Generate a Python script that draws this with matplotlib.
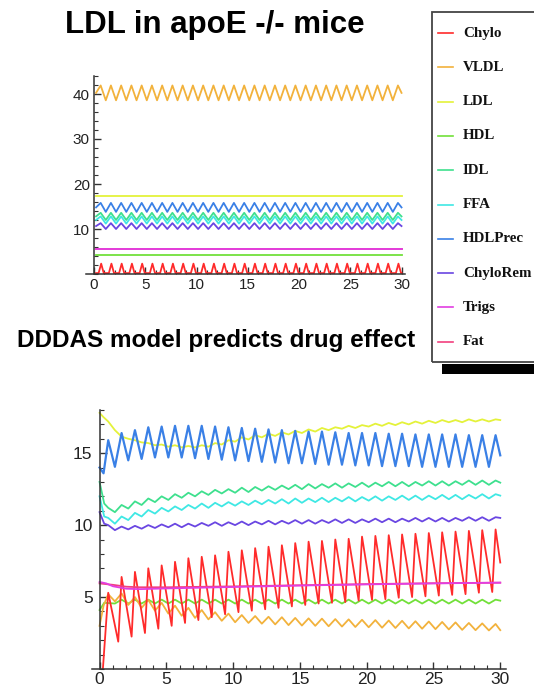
import numpy as np
import matplotlib.pyplot as plt
from matplotlib.lines import Line2D
from matplotlib.patches import Rectangle
from matplotlib.ticker import MultipleLocator

NAMES = ['Chylo', 'VLDL', 'LDL', 'HDL', 'IDL', 'FFA', 'HDLPrec', 'ChyloRem', 'Trigs', 'Fat']
COLORS = ['#ff2b2b', '#f2b23c', '#e4f23a', '#72e03a', '#3ee08e', '#3fe8e4',
          '#3a80e6', '#6a46e2', '#e23ee2', '#f2407e']

# one oscillation per day; peaks/troughs
days = np.arange(30)
t_peak = days + 0.65          # 0.65 .. 29.65
t_trough = days[:-1] + 1.15   # 1.15 .. 29.15

# ---------- top panel: apoE -/- steady state (trough, peak) levels ----------
top_chylo = (0.2, 2.3)
top_vldl = (38.6, 41.9)
top_idl = (12.0, 13.6)
top_ffa = (11.2, 12.8)
top_hdlprec = (13.8, 15.8)
top_chylorem = (10.0, 11.3)
top_ldl = 17.3
top_hdl = 4.3
top_trigs = 5.6
top_fat = 5.5

# ---------- bottom panel: drug effect ----------
chylo_peak = [5.3, 6.4, 6.75, 7.0, 7.2, 7.45, 7.7, 7.8, 7.9, 8.15, 8.25, 8.4, 8.5, 8.6, 8.75,
              8.85, 8.9, 9.0, 9.05, 9.2, 9.25, 9.3, 9.35, 9.4, 9.45, 9.5, 9.55, 9.6, 9.65, 9.7]
chylo_trough = [1.9, 2.25, 2.5, 2.8, 3.0, 3.2, 3.4, 3.6, 3.8, 3.95, 4.05, 4.15, 4.25, 4.35, 4.45,
                4.55, 4.6, 4.65, 4.75, 4.8, 4.85, 4.95, 5.0, 5.05, 5.1, 5.15, 5.2, 5.3, 5.35]
chylo_head = ([0.25], [0.0])
chylo_tail = ([30.0], [7.4])

hdlprec_peak = [15.9, 16.4, 16.6, 16.8, 16.85, 16.9, 16.9, 16.9, 16.85, 16.8, 16.75, 16.7, 16.65,
                16.6, 16.55, 16.5, 16.5, 16.45, 16.4, 16.4, 16.4, 16.35, 16.35, 16.3, 16.3, 16.3,
                16.3, 16.25, 16.25, 16.25]
hdlprec_trough = [14.05, 14.5, 14.6, 14.7, 14.7, 14.7, 14.65, 14.6, 14.55, 14.5, 14.45, 14.4, 14.35,
                  14.3, 14.3, 14.25, 14.2, 14.2, 14.15, 14.15, 14.1, 14.1, 14.1, 14.05, 14.05, 14.05,
                  14.05, 14.05, 14.05]
hdlprec_head = ([0.0, 0.3], [14.0, 13.6])
hdlprec_tail = ([30.0], [14.85])

ldl_peak = [17.2, 16.15, 15.9, 15.7, 15.6, 15.55, 15.5, 15.55, 15.7, 15.9, 16.1, 16.25, 16.35, 16.45,
            16.55, 16.65, 16.75, 16.8, 16.9, 16.95, 17.05, 17.1, 17.15, 17.2, 17.25, 17.3, 17.3,
            17.35, 17.35, 17.35]
ldl_trough = [16.6, 16.0, 15.75, 15.55, 15.45, 15.4, 15.4, 15.45, 15.6, 15.8, 15.95, 16.1, 16.2, 16.3,
              16.4, 16.5, 16.6, 16.7, 16.75, 16.85, 16.9, 16.95, 17.0, 17.05, 17.1, 17.15, 17.15,
              17.2, 17.2]
ldl_head = ([0.0, 0.3], [17.8, 17.5])
ldl_tail = ([30.0], [17.3])

idl_peak = [11.2, 11.4, 11.65, 11.85, 12.0, 12.15, 12.25, 12.35, 12.45, 12.5, 12.6, 12.65, 12.7,
            12.75, 12.8, 12.85, 12.85, 12.9, 12.9, 12.95, 12.95, 13.0, 13.0, 13.0, 13.05, 13.05,
            13.05, 13.1, 13.1, 13.1]
idl_trough = [10.9, 11.15, 11.4, 11.6, 11.75, 11.9, 12.0, 12.1, 12.2, 12.25, 12.3, 12.4, 12.45,
              12.5, 12.5, 12.55, 12.6, 12.6, 12.65, 12.65, 12.7, 12.7, 12.7, 12.75, 12.75, 12.75,
              12.8, 12.8, 12.8]
idl_head = ([0.0, 0.35], [13.0, 11.5])
idl_tail = ([30.0], [12.95])

ffa_peak = [10.5, 10.6, 10.85, 11.05, 11.2, 11.3, 11.4, 11.5, 11.55, 11.6, 11.65, 11.7, 11.75, 11.8,
            11.85, 11.85, 11.9, 11.9, 11.95, 11.95, 12.0, 12.0, 12.05, 12.05, 12.05, 12.1, 12.1,
            12.1, 12.15, 12.15]
ffa_trough = [10.1, 10.35, 10.6, 10.8, 10.95, 11.05, 11.15, 11.2, 11.3, 11.35, 11.4, 11.45, 11.5,
              11.5, 11.55, 11.6, 11.6, 11.65, 11.65, 11.7, 11.7, 11.75, 11.75, 11.75, 11.8, 11.8,
              11.8, 11.85, 11.85]
ffa_head = ([0.0, 0.35], [12.0, 10.6])
ffa_tail = ([30.0], [12.05])

chylorem_peak = [10.0, 9.9, 9.95, 10.0, 10.05, 10.1, 10.1, 10.15, 10.2, 10.2, 10.25, 10.25, 10.3,
                 10.3, 10.35, 10.35, 10.35, 10.4, 10.4, 10.4, 10.45, 10.45, 10.45, 10.5, 10.5, 10.5,
                 10.5, 10.55, 10.55, 10.55]
chylorem_trough = [9.65, 9.7, 9.75, 9.8, 9.85, 9.85, 9.9, 9.95, 9.95, 10.0, 10.0, 10.05, 10.05,
                   10.1, 10.1, 10.1, 10.15, 10.15, 10.15, 10.2, 10.2, 10.2, 10.25, 10.25, 10.25,
                   10.25, 10.3, 10.3, 10.3]
chylorem_head = ([0.0, 0.35], [10.9, 10.1])
chylorem_tail = ([30.0], [10.5])

vldl_peak = [5.2, 5.25, 5.0, 4.8, 4.6, 4.4, 4.25, 4.1, 3.95, 3.85, 3.75, 3.68, 3.63, 3.6, 3.55,
             3.52, 3.5, 3.47, 3.45, 3.42, 3.4, 3.37, 3.35, 3.32, 3.3, 3.27, 3.24, 3.2, 3.17, 3.13]
vldl_trough = [4.7, 4.45, 4.25, 4.05, 3.85, 3.7, 3.55, 3.45, 3.35, 3.25, 3.2, 3.15, 3.1, 3.05,
               3.02, 3.0, 2.97, 2.95, 2.92, 2.9, 2.87, 2.85, 2.82, 2.8, 2.77, 2.75, 2.72, 2.7, 2.68]
vldl_head = ([0.0, 0.3], [3.0, 4.4])
vldl_tail = ([30.0], [2.7])

hdl_levels = (4.55, 4.82)
hdl_head = ([0.0, 0.35], [4.1, 4.6])

trigs_t = [0, 0.5, 1, 2, 3, 5, 10, 15, 20, 25, 30]
trigs_v = [6.05, 5.95, 5.75, 5.58, 5.55, 5.6, 5.7, 5.8, 5.88, 5.95, 6.0]
fat_t = [0, 0.5, 1, 2, 3, 5, 10, 15, 20, 25, 30]
fat_v = [5.95, 5.9, 5.85, 5.72, 5.68, 5.68, 5.74, 5.82, 5.9, 5.96, 6.0]


def join(*parts):
    ts, vs = [], []
    for t, v in parts:
        t = np.atleast_1d(np.asarray(t, float))
        ts.append(t)
        vs.append(np.broadcast_to(np.asarray(v, float), t.shape))
    t = np.concatenate(ts)
    v = np.concatenate(vs)
    o = np.argsort(t, kind='stable')
    return t[o], v[o]


def wave(lo_hi, start=0.2, end=30.0):
    lo, hi = lo_hi
    mid = (lo + hi) / 2
    return join(([start], [mid]), (t_peak, hi), (t_trough, lo), ([end], [mid]))


fig = plt.figure(figsize=(5.34, 6.90), dpi=100)
W, H = 534.0, 690.0


def px_axes(x0, x1, y_top, y_bot):
    return fig.add_axes([x0 / W, 1 - y_bot / H, (x1 - x0) / W, (y_bot - y_top) / H])


def style(ax, yticks, yminor, fs, xpad, ypad):
    ax.spines['top'].set_visible(False)
    ax.spines['right'].set_visible(False)
    ax.spines['left'].set_position(('data', 0))
    for s in ('left', 'bottom'):
        ax.spines[s].set_color('#333333')
        ax.spines[s].set_linewidth(1.1)
    ax.xaxis.set_major_locator(MultipleLocator(5))
    ax.xaxis.set_minor_locator(MultipleLocator(1))
    ax.set_yticks(yticks)
    ax.yaxis.set_minor_locator(MultipleLocator(yminor))
    ax.tick_params(which='both', direction='in', color='#333333', labelcolor='#222222',
                   labelsize=fs)
    ax.tick_params(axis='x', which='major', pad=xpad)
    ax.tick_params(axis='y', which='major', pad=ypad)
    ax.tick_params(which='major', length=5, width=1.0)
    ax.tick_params(which='minor', length=3, width=0.8)
    for lab in ax.get_xticklabels() + ax.get_yticklabels():
        lab.set_family('Liberation Sans')


LW = 1.3

# ---------------- top panel ----------------
ax1 = px_axes(85.8, 404.6, 76, 274)
ax1.set_xlim(-0.8, 30.3)
ax1.set_ylim(0, 44)
c = dict(zip(NAMES, COLORS))
ax1.plot(*join(([0.2, 30.0], top_hdl)), color=c['HDL'], lw=LW)
ax1.plot(*join(([0.2, 30.0], top_fat)), color=c['Fat'], lw=LW)
ax1.plot(*join(([0.2, 30.0], top_trigs)), color=c['Trigs'], lw=LW)
ax1.plot(*join(([0.2, 30.0], top_ldl)), color=c['LDL'], lw=LW)
ax1.plot(*wave(top_chylorem), color=c['ChyloRem'], lw=LW)
ax1.plot(*wave(top_ffa), color=c['FFA'], lw=LW)
ax1.plot(*wave(top_idl), color=c['IDL'], lw=LW)
ax1.plot(*wave(top_hdlprec), color=c['HDLPrec'], lw=LW)
ax1.plot(*wave(top_vldl), color=c['VLDL'], lw=LW)
spike_base = np.concatenate([days + 0.45, days + 0.95])
ax1.plot(*join(([0.2], top_chylo[0]), (spike_base, top_chylo[0]), (days + 0.7, top_chylo[1]),
               ([30.0], top_chylo[0])), color=c['Chylo'], lw=LW)
style(ax1, [10, 20, 30, 40], 2, 11, 3, 3)

# ---------------- bottom panel ----------------
ax2 = px_axes(92.2, 505.6, 410, 669)
ax2.set_xlim(-0.55, 30.4)
ax2.set_ylim(0, 18)
ax2.plot(*join(hdl_head, (t_peak[1:], hdl_levels[1]), (t_trough, hdl_levels[0]), ([30.0], 4.75)),
         color=c['HDL'], lw=LW)
ax2.plot(*join(vldl_head, (t_peak, vldl_peak), (t_trough, vldl_trough), vldl_tail),
         color=c['VLDL'], lw=LW)
ax2.plot(*join(chylorem_head, (t_peak, chylorem_peak), (t_trough, chylorem_trough), chylorem_tail),
         color=c['ChyloRem'], lw=LW)
ax2.plot(*join(ffa_head, (t_peak, ffa_peak), (t_trough, ffa_trough), ffa_tail),
         color=c['FFA'], lw=LW)
ax2.plot(*join(idl_head, (t_peak, idl_peak), (t_trough, idl_trough), idl_tail),
         color=c['IDL'], lw=LW)
ax2.plot(*join(ldl_head, (t_peak, ldl_peak), (t_trough, ldl_trough), ldl_tail),
         color=c['LDL'], lw=LW)
ax2.plot(*join(hdlprec_head, (t_peak, hdlprec_peak), (t_trough, hdlprec_trough), hdlprec_tail),
         color=c['HDLPrec'], lw=LW + 0.3)
ax2.plot(*join(chylo_head, (t_peak, chylo_peak), (days[:-1] + 1.4, chylo_trough), chylo_tail),
         color=c['Chylo'], lw=LW)
ax2.plot(fat_t, fat_v, color=c['Fat'], lw=LW)
ax2.plot(trigs_t, trigs_v, color=c['Trigs'], lw=LW)
style(ax2, [5, 10, 15], 1, 12.5, 2, 5)

# ---------------- titles ----------------
fig.text(215 / W, 1 - 33 / H, 'LDL in apoE -/- mice', ha='center', va='baseline',
         fontsize=22.5, fontweight='bold', family='Liberation Sans')
fig.text(216 / W, 1 - 347 / H, 'DDDAS model predicts drug effect', ha='center', va='baseline',
         fontsize=17.5, fontweight='bold', family='Liberation Sans')

# ---------------- legend box ----------------
fig.add_artist(Rectangle((432 / W, 1 - 362 / H), 130 / W, 350 / H, transform=fig.transFigure,
                         fill=False, ec='#444444', lw=1.3, clip_on=False))
fig.add_artist(Rectangle((442 / W, 1 - 374 / H), 110 / W, 10 / H, transform=fig.transFigure,
                         fc='black', ec='none', clip_on=False))
for i, (name, col) in enumerate(zip(NAMES, COLORS)):
    y = 1 - (33 + i * 34.3) / H
    fig.add_artist(Line2D([438 / W, 453 / W], [y, y], color=col, lw=1.2,
                          transform=fig.transFigure))
    fig.text(463 / W, y, name, va='center', ha='left', fontsize=10.8, fontweight='bold',
             family='Liberation Serif', color='#111111')

fig.savefig('out.png', dpi=100)
